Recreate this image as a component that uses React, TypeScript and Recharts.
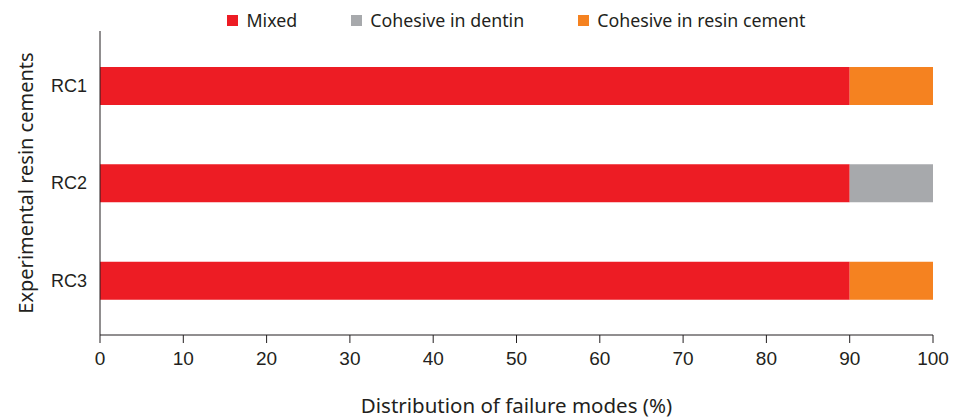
import React from "react";
import { BarChart, Bar, XAxis, YAxis } from "recharts";

document.body.style.margin = "0";

const cements = ["RC1", "RC2", "RC3"];
const mixed = [90, 90, 90];
const cohesiveDentin = [0, 10, 0];
const cohesiveResin = [10, 0, 10];
const xTicks = [0, 10, 20, 30, 40, 50, 60, 70, 80, 90, 100];

const series = [
    { key: "mixed", name: "Mixed", color: "#ED1C24" },
    { key: "dentin", name: "Cohesive in dentin", color: "#A7A9AC" },
    { key: "resin", name: "Cohesive in resin cement", color: "#F58220" },
];

const data = cements.map((c, i) => ({
    name: c,
    mixed: mixed[i],
    dentin: cohesiveDentin[i],
    resin: cohesiveResin[i],
}));

const ink = "#231F20";
const labelFont = "'Noto Sans', sans-serif";
const tickFont = "'Liberation Sans', Arial, sans-serif";

// legend centred over the plot area (100..933), not the whole page
const LegendRow = () => (
    <div style={{
        position: "absolute", top: 9, left: 100, width: 833,
        display: "flex", justifyContent: "center", gap: 54,
        fontFamily: labelFont, fontSize: 17.8, color: ink, lineHeight: "22px",
    }}>
        {series.map(s => (
            <div key={s.key} style={{display: "flex", alignItems: "center"}}>
                <span style={{width: 11, height: 11, background: s.color, marginRight: 8, display: "inline-block"}}/>
                <span>{s.name}</span>
            </div>
        ))}
    </div>
);

const YLabel = (props: any) => {
    const vb = props.viewBox || {};
    const cy = vb.y + vb.height / 2;
    return (
        <text x={25} y={cy} transform={`rotate(-90, 25, ${cy})`} textAnchor="middle"
              dominantBaseline="central" fill={ink} fontSize={20} fontFamily={labelFont}>
            Experimental resin cements
        </text>
    );
};

const XLabel = (props: any) => {
    const vb = props.viewBox || {};
    return (
        <text x={vb.x + vb.width / 2} y={405} textAnchor="middle" dominantBaseline="central"
              fill={ink} fontSize={20.5} fontFamily={labelFont}>
            Distribution of failure modes (%)
        </text>
    );
};

export default function App() {
    return (
        <div style={{position: "relative", width: 963, height: 418}}>
            <BarChart
                width={963}
                height={418}
                layout="vertical"
                data={data}
                margin={{top: 31, right: 30, bottom: 0, left: 0}}
            >
                <XAxis
                    type="number"
                    domain={[0, 100]}
                    ticks={xTicks}
                    height={83}
                    stroke={ink}
                    tickSize={8}
                    tickMargin={9}
                    tick={{fill: ink, fontSize: 19, fontFamily: tickFont}}
                    label={<XLabel/>}
                />
                <YAxis
                    type="category"
                    dataKey="name"
                    width={100}
                    stroke={ink}
                    tickLine={false}
                    tickSize={0}
                    tickMargin={13}
                    padding={{top: 6, bottom: 6}}
                    tick={{fill: ink, fontSize: 18, fontFamily: tickFont}}
                    label={<YLabel/>}
                />
                {series.map(s => (
                    <Bar key={s.key} dataKey={s.key} name={s.name} stackId="a" fill={s.color}
                         barSize={38} isAnimationActive={false}/>
                ))}
            </BarChart>
            <LegendRow/>
        </div>
    );
}
